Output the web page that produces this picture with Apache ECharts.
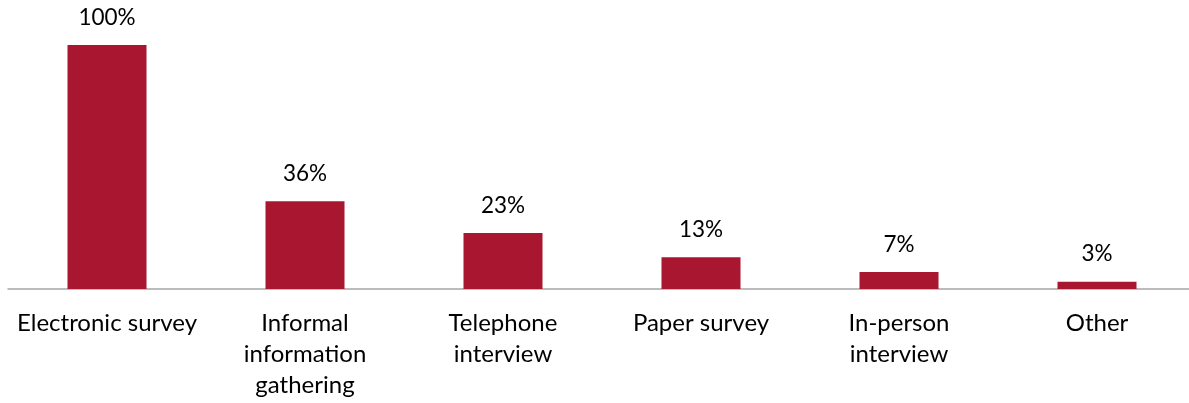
<!DOCTYPE html>
<html><head><meta charset="utf-8">
<script src="https://cdn.jsdelivr.net/npm/echarts@6/dist/echarts.min.js"></script>
<style>html,body{margin:0;padding:0;background:#fff;overflow:hidden}#c{width:1200px;height:403px}</style>
</head><body><div id="c"></div>
<script>
const categories = ["Electronic survey", "Informal\ninformation\ngathering", "Telephone\ninterview", "Paper survey", "In-person\ninterview", "Other"];
const values = [100, 36, 23, 13, 7, 3];
const chart = echarts.init(document.getElementById('c'), null, {renderer: 'canvas'});
chart.setOption({
  animation: false,
  grid: {left: 8, width: 1188, top: 45, bottom: 114, containLabel: false},
  xAxis: {
    type: 'category', data: categories,
    axisLine: {lineStyle: {color: '#A6A6A6', width: 1.5}},
    axisTick: {show: false},
    axisLabel: {interval: 0, color: '#000', fontFamily: 'Lato', fontSize: 24, lineHeight: 31, margin: 19}
  },
  yAxis: {type: 'value', min: 0, max: 100, show: false, splitLine: {show: false}},
  series: [{
    type: 'bar', data: values, barWidth: 79,
    itemStyle: {color: '#A8172F'},
    label: {show: true, position: 'top', distance: 16, formatter: '{c}%', color: '#000', fontFamily: 'Lato', fontSize: 22.5}
  }]
});
</script></body></html>
